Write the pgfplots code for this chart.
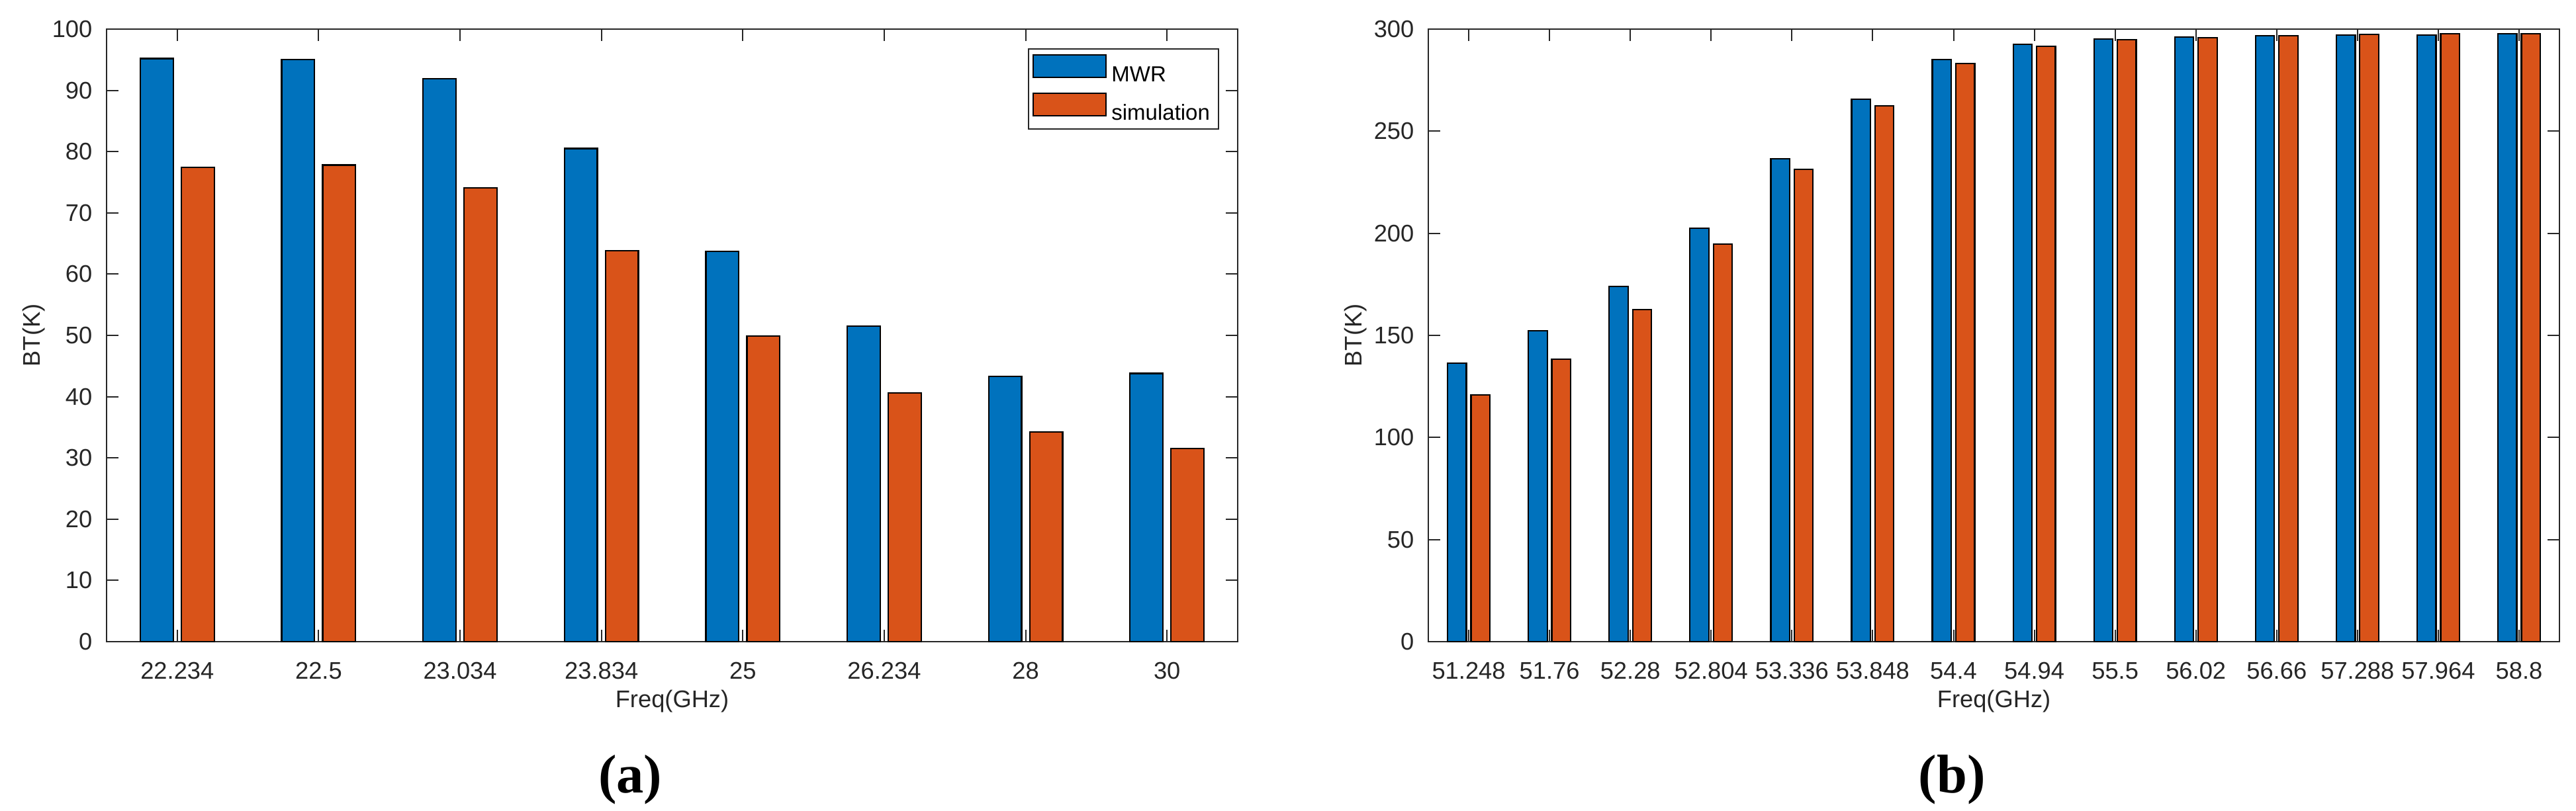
\documentclass[border=0pt]{standalone}
\usepackage{pgfplots}
\pgfplotsset{compat=1.18}
\usepackage{fontspec}
\setmainfont{Liberation Sans}
\newfontfamily\capfont{Liberation Serif}
\definecolor{mwrblue}{rgb}{0,0.447,0.741}
\definecolor{simorange}{rgb}{0.85,0.325,0.098}
\definecolor{axgray}{rgb}{0.15,0.15,0.15}

% shared look of both panels (MATLAB style)
\pgfplotsset{
  btbars/.style={
    scale only axis, width=341.8pt, height=185.2pt,
    anchor=south west, clip=false,
    axis line style={axgray, line width=0.4pt},
    every tick/.style={axgray, line width=0.4pt},
    major tick length=3.6pt,
    tick align=inside,
    font=\fontsize{7.26}{8.5}\selectfont,
    /pgf/number format/assume math mode=true,
    tick label style={text=axgray},
    xticklabel style={yshift=-2.8pt},
    yticklabel style={xshift=-0.8pt},
    ymin=0, xmin=0.5,
    xlabel={Freq(GHz)}, ylabel={BT(K)},
    label style={text=axgray},
    xlabel style={at={(axis description cs:0.5,-0.0972)}, anchor=center},
    ylabel style={at={(axis description cs:-0.0644,0.5)}, anchor=center},
  },
  mwr/.style={ybar, bar width=0.233, bar shift=-0.145, fill=mwrblue, draw=black, line width=0.45pt},
  sim/.style={ybar, bar width=0.233, bar shift=0.145, fill=simorange, draw=black, line width=0.45pt},
}

\begin{document}
\begin{tikzpicture}
\useasboundingbox (0,0) rectangle (778.4pt,245.2pt);

% (a) water vapour band
\begin{axis}[btbars, at={(32.2pt,51.2pt)},
    xmax=8.5, ymax=100, ytick={0,10,...,100},
    xtick={1,...,8},
    xticklabels={22.234,22.5,23.034,23.834,25,26.234,28,30},
    legend style={at={(rel axis cs:0.9836,0.9687)}, anchor=north east,
      draw=axgray, line width=0.4pt, fill=white,
      font=\fontsize{6.6}{7.5}\selectfont,
      inner xsep=1.2pt, inner ysep=1.6pt, row sep=2.2pt,
      nodes={inner xsep=1.4pt, inner ysep=0pt, text height=5.75pt, text depth=1.05pt}},
    legend cell align=left,
    legend image code/.code={\draw[#1, line width=0.45pt] (0pt,-1.05pt) rectangle (22pt,5.75pt);},
  ]
  \addplot[mwr] coordinates {(1,95.2) (2,95.0) (3,91.9) (4,80.5) (5,63.7) (6,51.5) (7,43.3) (8,43.8)};
  \addplot[sim] coordinates {(1,77.4) (2,77.8) (3,74.1) (4,63.8) (5,49.9) (6,40.6) (7,34.2) (8,31.5)};
  \legend{MWR,simulation}
  \node[font=\capfont\bfseries\fontsize{16.5}{18}\selectfont] at (rel axis cs:0.463,-0.2257) {(a)};
\end{axis}

% (b) oxygen band
\begin{axis}[btbars, at={(431.6pt,51.2pt)},
    xmax=14.5, ymax=300, ytick={0,50,...,300},
    xtick={1,...,14},
    xticklabels={51.248,51.76,52.28,52.804,53.336,53.848,54.4,54.94,55.5,56.02,56.66,57.288,57.964,58.8},
  ]
  \addplot[mwr] coordinates {(1,136.3) (2,152.3) (3,174.0) (4,202.5) (5,236.5) (6,265.6) (7,285.1)
    (8,292.5) (9,295.2) (10,296.2) (11,296.8) (12,297.1) (13,297.1) (14,297.8)};
  \addplot[sim] coordinates {(1,120.8) (2,138.4) (3,162.7) (4,194.7) (5,231.4) (6,262.4) (7,283.2)
    (8,291.6) (9,294.9) (10,295.8) (11,296.8) (12,297.5) (13,297.8) (14,297.8)};
  \node[font=\capfont\bfseries\fontsize{16.5}{18}\selectfont] at (rel axis cs:0.463,-0.2257) {(b)};
\end{axis}
\end{tikzpicture}
\end{document}
